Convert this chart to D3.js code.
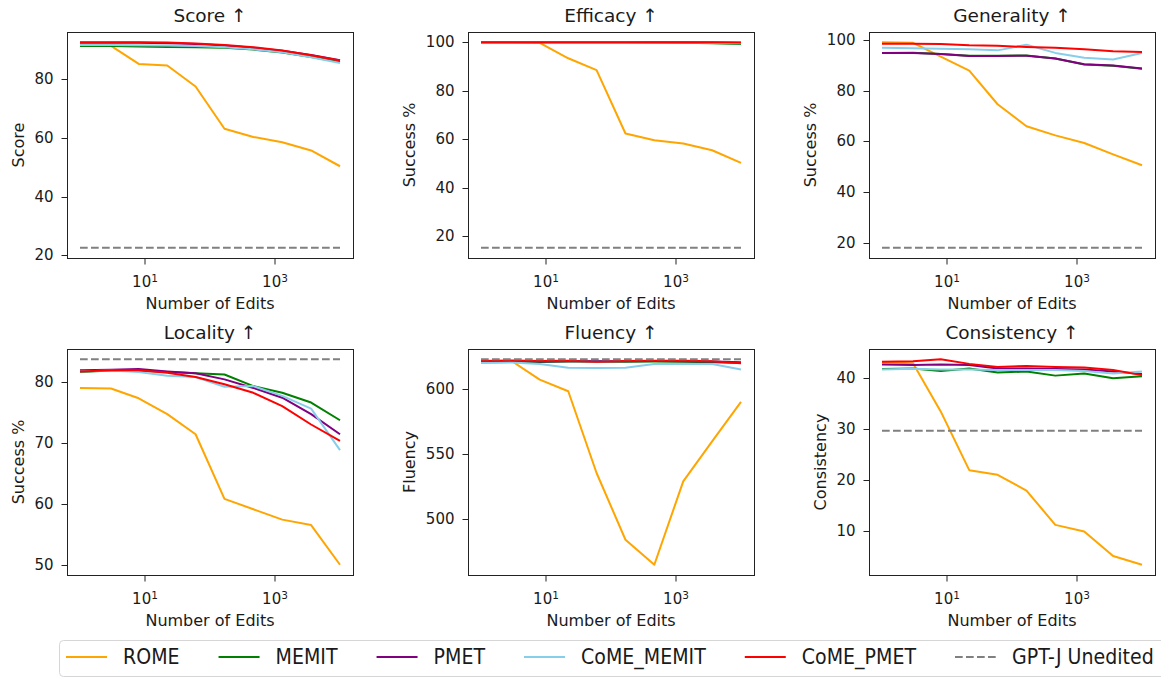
<!DOCTYPE html>
<html>
<head>
<meta charset="utf-8">
<script src="https://cdn.jsdelivr.net/npm/d3@7"></script>
<style>
body { margin: 0; background: #fff; }
svg text { font-family: "DejaVu Sans", sans-serif; fill: #1a1a1a; }
</style>
</head>
<body>
<svg id="chart" width="1161" height="678"></svg>
<script>
// x values: number of edits
var edits = [1, 3, 8, 22, 60, 167, 464, 1292, 3594, 10000];
var methods = ['ROME', 'MEMIT', 'PMET', 'CoME_MEMIT', 'CoME_PMET'];
var methodColors = ['orange', 'green', 'purple', 'skyblue', 'red'];
var baselineName = 'GPT-J Unedited';

var panelTitles = ['Score \u2191', 'Efficacy \u2191', 'Generality \u2191', 'Locality \u2191', 'Fluency \u2191', 'Consistency \u2191'];
var panelYLabels = ['Score', 'Success %', 'Success %', 'Success %', 'Fluency', 'Consistency'];
var xTicks = [10, 1000];
var yTicks = [
	[20, 40, 60, 80],
	[20, 40, 60, 80, 100],
	[20, 40, 60, 80, 100],
	[50, 60, 70, 80],
	[500, 550, 600],
	[10, 20, 30, 40]
];

// one row per method, in the order of `methods`
var scoreVals = [
	[91.5, 91.5, 85.3, 84.8, 77.6, 63.2, 60.4, 58.6, 55.8, 50.4],
	[91.4, 91.4, 91.3, 91.1, 91.0, 90.8, 90.2, 89.2, 87.7, 86.0],
	[92.5, 92.5, 92.5, 92.4, 92.1, 91.6, 90.8, 89.8, 88.4, 86.6],
	[91.8, 91.8, 91.7, 91.6, 91.4, 91.0, 90.3, 89.3, 87.6, 85.6],
	[92.7, 92.7, 92.7, 92.6, 92.3, 91.8, 91.0, 89.9, 88.3, 86.5]
];
var efficacyVals = [
	[100, 100, 99.8, 93.4, 88.5, 62.4, 59.6, 58.3, 55.5, 50.3],
	[100, 100, 100, 100, 100, 100, 99.9, 99.8, 99.6, 99.3],
	[100, 100, 100, 100, 100, 100, 100, 100, 99.9, 99.8],
	[100, 100, 100, 100, 100, 100, 99.9, 99.9, 99.8, 99.6],
	[100, 100, 100, 100, 100, 100, 100, 100, 100, 99.9]
];
var generalityVals = [
	[99.2, 99.0, 93.5, 88.0, 74.7, 66.0, 62.4, 59.4, 54.9, 50.6],
	[95.0, 95.1, 94.6, 93.9, 93.9, 94.0, 92.8, 90.4, 89.9, 88.7],
	[95.0, 95.0, 94.6, 93.8, 93.8, 93.9, 92.8, 90.5, 90.0, 88.8],
	[97.0, 96.8, 96.6, 96.4, 96.0, 98.2, 95.0, 93.1, 92.4, 95.0],
	[98.6, 98.6, 98.5, 98.0, 97.8, 97.3, 97.0, 96.4, 95.7, 95.4]
];
var localityVals = [
	[79.0, 78.9, 77.3, 74.7, 71.4, 60.8, 59.1, 57.4, 56.5, 50.0],
	[81.6, 81.85, 81.85, 81.6, 81.4, 81.2, 79.3, 78.2, 76.6, 73.7],
	[81.9, 82.0, 82.1, 81.7, 81.4, 80.4, 79.0, 77.4, 74.7, 71.4],
	[81.7, 81.85, 81.6, 81.0, 80.8, 79.2, 79.3, 77.7, 75.6, 68.8],
	[81.7, 81.9, 81.9, 81.5, 80.8, 79.6, 78.2, 76.0, 73.0, 70.3]
];
var fluencyVals = [
	[621.3, 621.3, 607.2, 598.2, 535.4, 484.1, 464.9, 529.0, 559.7, 590.0],
	[620.5, 620.8, 620.8, 621.0, 621.0, 620.8, 621.0, 620.8, 620.6, 620.0],
	[621.2, 621.4, 621.0, 621.3, 621.3, 621.2, 621.4, 621.2, 621.0, 620.5],
	[620.0, 620.3, 619.2, 616.2, 616.0, 616.2, 619.2, 619.2, 619.2, 614.9],
	[621.5, 621.8, 621.5, 621.7, 620.8, 621.5, 621.7, 621.6, 621.2, 619.8]
];
var consistencyVals = [
	[43.0, 42.8, 33.4, 21.9, 21.0, 17.9, 11.2, 9.9, 5.1, 3.4],
	[41.7, 41.8, 41.3, 41.8, 41.0, 41.2, 40.4, 40.8, 39.9, 40.3],
	[42.6, 42.5, 42.6, 42.5, 41.8, 41.8, 41.7, 41.6, 41.2, 40.7],
	[41.6, 41.75, 41.6, 41.6, 41.5, 41.5, 41.5, 41.3, 40.8, 41.2],
	[43.1, 43.2, 43.6, 42.7, 42.1, 42.3, 42.1, 42.0, 41.5, 40.5]
];
// unedited GPT-J, one value per panel
var uneditedVals = [22.6, 15.3, 18.0, 83.7, 622.8, 29.6];

var panelVals = [scoreVals, efficacyVals, generalityVals, localityVals, fluencyVals, consistencyVals];

// layout
var colLeft = [67, 468, 869], rowTop = [32, 349];
var W = 286, H = 226;

var svg = d3.select('#chart');

panelVals.forEach(function(vals, p){
	var left = colLeft[p % 3], top = rowTop[Math.floor(p / 3)];
	var g = svg.append('g').attr('transform', 'translate(' + left + ',' + top + ')');

	// matplotlib style autoscale with 5% margins
	var all = d3.merge(vals).concat([uneditedVals[p]]);
	var lo = d3.min(all), hi = d3.max(all), pad = (hi - lo) * 0.05;
	var y = d3.scaleLinear().domain([lo - pad, hi + pad]).range([H, 0]);
	var x = d3.scaleLog().domain([Math.pow(10, -0.2), Math.pow(10, 4.2)]).range([0, W]);

	var line = d3.line()
		.x(function(d, i){ return x(edits[i]); })
		.y(function(d){ return y(d); });

	vals.forEach(function(series, m){
		g.append('path')
			.attr('d', line(series))
			.attr('fill', 'none')
			.attr('stroke', methodColors[m])
			.attr('stroke-width', 2)
			.attr('stroke-linejoin', 'round');
	});

	// unedited baseline
	g.append('line')
		.attr('x1', x(edits[0])).attr('x2', x(edits[edits.length - 1]))
		.attr('y1', y(uneditedVals[p])).attr('y2', y(uneditedVals[p]))
		.attr('stroke', 'gray')
		.attr('stroke-width', 2)
		.attr('stroke-dasharray', '7.7,3.3');

	// frame
	g.append('rect')
		.attr('x', 0.5).attr('y', 0.5).attr('width', W).attr('height', H)
		.attr('fill', 'none').attr('stroke', '#222').attr('stroke-width', 1);

	// x ticks
	var xt = g.selectAll('.xtick').data(xTicks).enter().append('g')
		.attr('transform', function(d){ return 'translate(' + x(d) + ',' + H + ')'; });
	xt.append('line').attr('y1', 0.5).attr('y2', 6.5).attr('stroke', '#222');
	var xtText = xt.append('text').attr('y', 29).attr('text-anchor', 'middle').style('font-size', '15px');
	xtText.append('tspan').text('10');
	xtText.append('tspan').attr('dy', '-0.45em').style('font-size', '10.5px')
		.text(function(d){ return Math.round(Math.log10(d)); });

	// y ticks
	var yt = g.selectAll('.ytick').data(yTicks[p]).enter().append('g')
		.attr('transform', function(d){ return 'translate(0,' + Math.round(y(d)) + ')'; });
	yt.append('line').attr('x1', 0.5).attr('x2', -5.5).attr('y1', 0.5).attr('y2', 0.5).attr('stroke', '#222');
	var ytText = yt.append('text').attr('x', -13.5).attr('dy', '0.36em')
		.attr('text-anchor', 'end').style('font-size', '15px')
		.text(function(d){ return d; });

	var tickLeft = 0;
	ytText.each(function(){ tickLeft = Math.min(tickLeft, -13.5 - this.getComputedTextLength()); });

	// labels
	g.append('text')
		.attr('transform', 'translate(' + (tickLeft - 10.5) + ',' + (H / 2) + ') rotate(-90)')
		.attr('text-anchor', 'middle').style('font-size', '16px')
		.text(panelYLabels[p]);
	g.append('text')
		.attr('x', W / 2).attr('y', H + 51)
		.attr('text-anchor', 'middle').style('font-size', '16px')
		.text('Number of Edits');
	g.append('text')
		.attr('x', W / 2).attr('y', -10)
		.attr('text-anchor', 'middle').style('font-size', '18.5px')
		.text(panelTitles[p]);
});

// legend
var legend = svg.append('g');
legend.append('rect')
	.attr('x', 59.5).attr('y', 640.5).attr('width', 1130).attr('height', 36).attr('rx', 4)
	.attr('fill', '#fff').attr('stroke', '#d6d6d6');

var legendItems = methods.map(function(m, i){ return { name: m, color: methodColors[i], dash: null }; })
	.concat([{ name: baselineName, color: 'gray', dash: '7.7,3.3' }]);

var lx = 66;
legendItems.forEach(function(it){
	legend.append('line')
		.attr('x1', lx).attr('x2', lx + 41).attr('y1', 657).attr('y2', 657)
		.attr('stroke', it.color).attr('stroke-width', 2)
		.attr('stroke-dasharray', it.dash);
	var t = legend.append('text')
		.attr('transform', 'translate(' + (lx + 57) + ',664) scale(1,1.1)')
		.style('font-size', '19px')
		.text(it.name);
	lx += 57 + t.node().getComputedTextLength() + 39;
});
</script>
</body>
</html>
